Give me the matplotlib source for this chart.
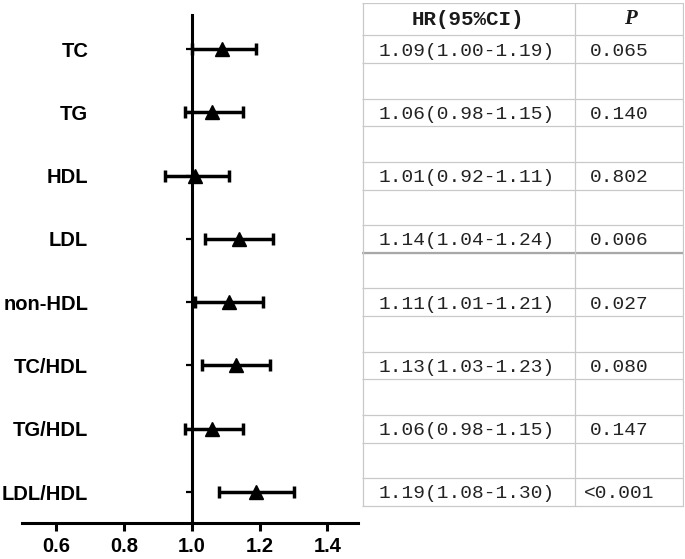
import matplotlib
matplotlib.use('Agg')
import matplotlib.pyplot as plt
import numpy as np

# Data
labels = ['TC', 'TG', 'HDL', 'LDL', 'non-HDL', 'TC/HDL', 'TG/HDL', 'LDL/HDL']
hr = [1.09, 1.06, 1.01, 1.14, 1.11, 1.13, 1.06, 1.19]
ci_low = [1.00, 0.98, 0.92, 1.04, 1.01, 1.03, 0.98, 1.08]
ci_high = [1.19, 1.15, 1.11, 1.24, 1.21, 1.23, 1.15, 1.30]
hr_text = ['1.09(1.00-1.19)', '1.06(0.98-1.15)', '1.01(0.92-1.11)',
           '1.14(1.04-1.24)', '1.11(1.01-1.21)', '1.13(1.03-1.23)',
           '1.06(0.98-1.15)', '1.19(1.08-1.30)']
p_text = ['0.065', '0.140', '0.802', '0.006', '0.027', '0.080', '0.147', '<0.001']
xticks = [0.6, 0.8, 1.0, 1.2, 1.4]

n = len(labels)
ypos = np.arange(n, 0, -1)  # TC at top
hr = np.array(hr)
err = [hr - np.array(ci_low), np.array(ci_high) - hr]

W, H = 685, 559
fig = plt.figure(figsize=(W / 100, H / 100), dpi=100)

# forest plot
ax = fig.add_axes([22 / W, 1 - 523 / H, (358 - 22) / W, (523 - 15) / H])
ax.errorbar(hr, ypos, xerr=err, fmt='^', color='black', markersize=10,
            elinewidth=2.5, capsize=4.5, capthick=2.5)
ax.set_xlim(0.5, 1.49)
ax.set_ylim(0.51, 8.54)

for s in ['top', 'right']:
    ax.spines[s].set_visible(False)
ax.spines['left'].set_position(('data', 1.0))
ax.spines['left'].set_linewidth(2.2)
ax.spines['bottom'].set_linewidth(2.2)

ax.set_yticks(ypos)
ax.set_yticklabels(labels, fontsize=14.5, fontweight='bold', family='Liberation Sans')
ax.tick_params(axis='y', direction='out', length=4.5, width=1.6, pad=70)
ax.set_xticks(xticks)
ax.set_xticklabels([f'{t:.1f}' for t in xticks], fontsize=14.5, fontweight='bold',
                   family='Liberation Sans')
ax.tick_params(axis='x', direction='out', length=6, width=2.2, pad=4)

# table
tab = fig.add_axes([362 / W, 1 - 523 / H, (684 - 362) / W, (523 - 3) / H])
tab.set_xlim(0, 1)
tab.set_ylim(0.51, 8.73)
tab.axis('off')

gc = '#c9c9c9'
half = 0.22
top = 8.73
bottom = ypos[-1] - half
tab.hlines(top, 0, 1, color=gc, lw=0.9)
for y in ypos:
    tab.hlines([y + half, y - half], 0, 1, color=gc, lw=0.9)
# slightly heavier line under the LDL row
tab.hlines(ypos[3] - half, 0, 1, color='#a8a8a8', lw=1.6)
tab.vlines([0.003, 0.66, 0.997], bottom, top, color=gc, lw=0.9)

head_y = (top + ypos[0] + half) / 2
tab.text(0.33, head_y, 'HR(95%CI)', ha='center', va='center',
         fontsize=15, fontweight='bold', family='Liberation Mono', color='#1a1a1a')
tab.text(0.835, head_y, 'P', ha='center', va='center',
         fontsize=15, fontweight='bold', style='italic', family='Liberation Serif',
         color='#1a1a1a')
for y, t1, t2 in zip(ypos, hr_text, p_text):
    tab.text(0.325, y - 0.03, t1, ha='center', va='center', fontsize=14,
             family='Liberation Mono', color='#222222')
    tab.text(0.80, y - 0.03, t2, ha='center', va='center', fontsize=14,
             family='Liberation Mono', color='#222222')

plt.savefig('out.png', dpi=100)
plt.close()
